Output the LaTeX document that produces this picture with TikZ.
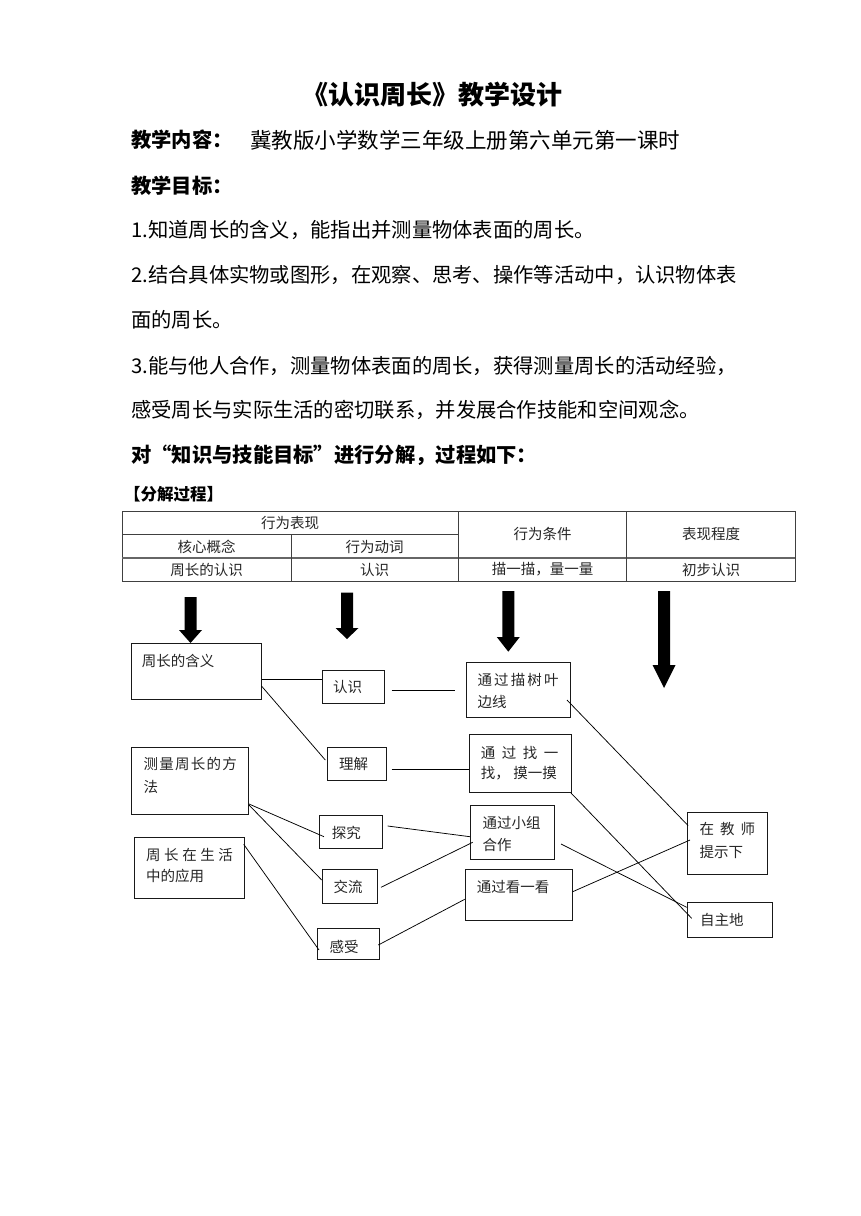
\documentclass[tikz,border=0pt]{standalone}
\usepackage{fontspec}
\setmainfont{Noto Sans CJK SC}
\usetikzlibrary{calc}
\newcommand\mytitlefont{\fontsize{26pt}{30pt}\selectfont\bfseries}
\newcommand\mybodyfont{\fontsize{20.3pt}{24pt}\selectfont}
\newcommand\mytabfont{\fontsize{14.5pt}{17pt}\selectfont}
\newcommand\mydiafont{\fontsize{14.5pt}{17pt}\selectfont}
\newcommand\jline[2]{\makebox[#1][l]{#2}}
\tikzset{
  body/.style={anchor=west, inner sep=0pt, font=\mybodyfont},
  tabtxt/.style={anchor=center, inner sep=0pt, font=\mytabfont, text=black!85},
  tabline/.style={draw=black!75, line width=0.8pt},
  diabox/.style={draw=black!90, line width=1pt, anchor=north west, inner sep=0pt, rectangle},
  diatxt/.style={anchor=west, inner sep=0pt, font=\mydiafont, text=black!85},
  link/.style={draw=black, line width=0.75pt},
  blockarrow/.style={fill=black}
}
\begin{document}
\begin{tikzpicture}[x=1pt,y=-1pt]
\useasboundingbox (0,0) rectangle (860,1216);
\fill[white] (0,0) rectangle (860,1216);

% ---------- heading text ----------
\node[anchor=center, inner sep=0pt, font=\mytitlefont] (title) at (432,95) {《认识周长》教学设计};
\node[body, font=\mybodyfont\bfseries] (h1) at (131,140) {教学内容：};
\node[body, font=\fontsize{21.5pt}{24pt}\selectfont] (h1c) at (250,140) {冀教版小学数学三年级上册第六单元第一课时};
\node[body, font=\mybodyfont\bfseries] (h2) at (131,186) {教学目标：};
\node[body] (g1) at (131,230) {1.知道周长的含义，能指出并测量物体表面的周长。};
\node[body] (g2) at (131,275) {2.结合具体实物或图形，在观察、思考、操作等活动中，认识物体表};
\node[body] (g2b) at (131,320) {面的周长。};
\node[body] (g3) at (131,366) {3.能与他人合作，测量物体表面的周长，获得测量周长的活动经验，};
\node[body] (g3b) at (131,410) {感受周长与实际生活的密切联系，并发展合作技能和空间观念。};
\node[body, font=\mybodyfont\bfseries] (h3) at (131,455) {对“知识与技能目标”进行分解，过程如下：};
\node[anchor=west, inner sep=0pt, font=\fontsize{16.5pt}{19pt}\selectfont\bfseries] (h4) at (124,494) {【分解过程】};

% ---------- table ----------
\draw[tabline] (122.3,511.7) rectangle (795,581);
\draw[tabline] (122.3,534) -- (458.3,534);
\draw[tabline, line width=1.6pt, draw=black!60] (122.3,557.7) -- (795,557.7);
\draw[tabline] (291,534) -- (291,581);
\draw[tabline] (458.3,511.7) -- (458.3,581);
\draw[tabline] (626.7,511.7) -- (626.7,581);
\node[tabtxt] (t11) at (290,523) {行为表现};
\node[tabtxt] (t21) at (206.5,546.5) {核心概念};
\node[tabtxt] (t22) at (374.5,546.5) {行为动词};
\node[tabtxt] (t13) at (542.5,533.5) {行为条件};
\node[tabtxt] (t14) at (711,533.5) {表现程度};
\node[tabtxt] (t31) at (206.5,569.5) {周长的认识};
\node[tabtxt] (t32) at (374.5,569.5) {认识};
\node[tabtxt] (t33) at (542.5,569.5) {描一描，量一量};
\node[tabtxt] (t34) at (711,569.5) {初步认识};

% ---------- block arrows ----------
\foreach \cx/\top/\ht/\tip in {190.5/597/630/643, 347/592.7/628/639, 508.3/591/637/651.7, 664/591/665/688}{
  \fill[blockarrow] (\cx-6,\top) -- (\cx+6,\top) -- (\cx+6,\ht) -- (\cx+11.5,\ht) -- (\cx,\tip) -- (\cx-11.5,\ht) -- (\cx-6,\ht) -- cycle;
}

% ---------- boxes ----------
\node[diabox, minimum width=130pt, minimum height=56pt] (hanyi) at (130.5,643) {};
\node[diabox, minimum width=62.3pt, minimum height=33pt] (renshi) at (321.7,670) {};
\node[diabox, minimum width=59pt, minimum height=33.3pt] (lijie) at (327,746.7) {};
\node[diabox, minimum width=117.3pt, minimum height=67.3pt] (fangfa) at (130.7,746.7) {};
\node[diabox, minimum width=63pt, minimum height=33pt] (tanjiu) at (319,815) {};
\node[diabox, minimum width=110pt, minimum height=61.3pt] (yingyong) at (134,836.7) {};
\node[diabox, minimum width=55pt, minimum height=33.7pt] (jiaoliu) at (321.7,869) {};
\node[diabox, minimum width=62pt, minimum height=31pt] (ganshou) at (317,928) {};
\node[diabox, minimum width=104pt, minimum height=55pt] (miao) at (466,661.7) {};
\node[diabox, minimum width=101.4pt, minimum height=58pt] (zhao) at (469.3,734) {};
\node[diabox, minimum width=84.3pt, minimum height=53.7pt] (xiaozu) at (470,805) {};
\node[diabox, minimum width=107pt, minimum height=51pt] (kan) at (464.7,869) {};
\node[diabox, minimum width=79.4pt, minimum height=62.3pt] (tishi) at (687.3,811.7) {};
\node[diabox, minimum width=85pt, minimum height=34.4pt] (zizhu) at (687.3,902.3) {};

% ---------- box texts ----------
\node[diatxt] (hanyi-t) at (141.7,660.7) {周长的含义};
\node[diatxt] (renshi-t) at (333,687) {认识};
\node[diatxt] (lijie-t) at (339,764) {理解};
\node[diatxt] (fangfa-t1) at (143.3,764.3) {\jline{93.4pt}{测\hfill 量\hfill 周\hfill 长\hfill 的\hfill 方}};
\node[diatxt] (fangfa-t2) at (143.3,786.7) {法};
\node[diatxt] (tanjiu-t) at (331.7,833.3) {探究};
\node[diatxt] (yingyong-t1) at (146,855) {\jline{86.7pt}{周\hfill 长\hfill 在\hfill 生\hfill 活}};
\node[diatxt] (yingyong-t2) at (146,876) {中的应用};
\node[diatxt] (jiaoliu-t) at (333.3,886.7) {交流};
\node[diatxt] (ganshou-t) at (329.3,946.7) {感受};
\node[diatxt] (miao-t1) at (477.3,680) {\jline{81pt}{通\hfill 过\hfill 描\hfill 树\hfill 叶}};
\node[diatxt] (miao-t2) at (477.3,701.7) {边线};
\node[diatxt] (zhao-t1) at (480.7,752.7) {\jline{77.6pt}{通\hfill 过\hfill 找\hfill 一}};
\node[diatxt] (zhao-t2) at (480.7,773.3) {\jline{76pt}{找，\hfill 摸一摸}};
\node[diatxt] (xiaozu-t1) at (482.3,823.3) {通过小组};
\node[diatxt] (xiaozu-t2) at (482.3,845) {合作};
\node[diatxt] (kan-t) at (476.7,886.7) {通过看一看};
\node[diatxt] (tishi-t1) at (699.3,829.3) {\jline{55.7pt}{在\hfill 教\hfill 师}};
\node[diatxt] (tishi-t2) at (699.3,851.7) {提示下};
\node[diatxt] (zizhu-t) at (700,920) {自主地};

% ---------- connectors ----------
\draw[link] ($(hanyi.north east)+(0,36.3)$) -- ($(renshi.north west)+(0,9.3)$);
\draw[link] ($(hanyi.north east)+(0,43)$) -- ($(lijie.north west)+(-1.7,13.3)$);
\draw[link] ($(renshi.north east)+(6.7,20)$) -- ($(miao.north west)+(-11,28.3)$);
\draw[link] ($(lijie.north east)+(4.7,22.6)$) -- ($(zhao.north west)+(0,35.3)$);
\draw[link] ($(fangfa.north east)+(0,57.3)$) -- ($(tanjiu.north west)+(5,21.7)$);
\draw[link] ($(fangfa.north east)+(0,58.3)$) -- ($(jiaoliu.north west)+(0,11)$);
\draw[link] ($(tanjiu.north east)+(4.7,11)$) -- ($(xiaozu.north west)+(0,31.7)$);
\draw[link] ($(jiaoliu.north east)+(3.3,18.3)$) -- ($(xiaozu.north west)+(2.7,37.3)$);
\draw[link] ($(yingyong.north east)+(-1.3,7.6)$) -- ($(ganshou.north west)+(2,22)$);
\draw[link] ($(ganshou.north east)+(-1.7,17)$) -- ($(kan.north west)+(0,30.3)$);
\draw[link] ($(miao.north east)+(-4,38.3)$) -- ($(tishi.north west)+(0.7,13.8)$);
\draw[link] ($(zhao.south east)+(-0.7,0)$) -- ($(zizhu.north west)+(4.4,16)$);
\draw[link] ($(xiaozu.north east)+(5.7,39)$) -- ($(zizhu.north west)+(-0.6,5)$);
\draw[link] ($(kan.north east)+(0,22.7)$) -- ($(tishi.north west)+(2.7,28.3)$);
\end{tikzpicture}
\end{document}
